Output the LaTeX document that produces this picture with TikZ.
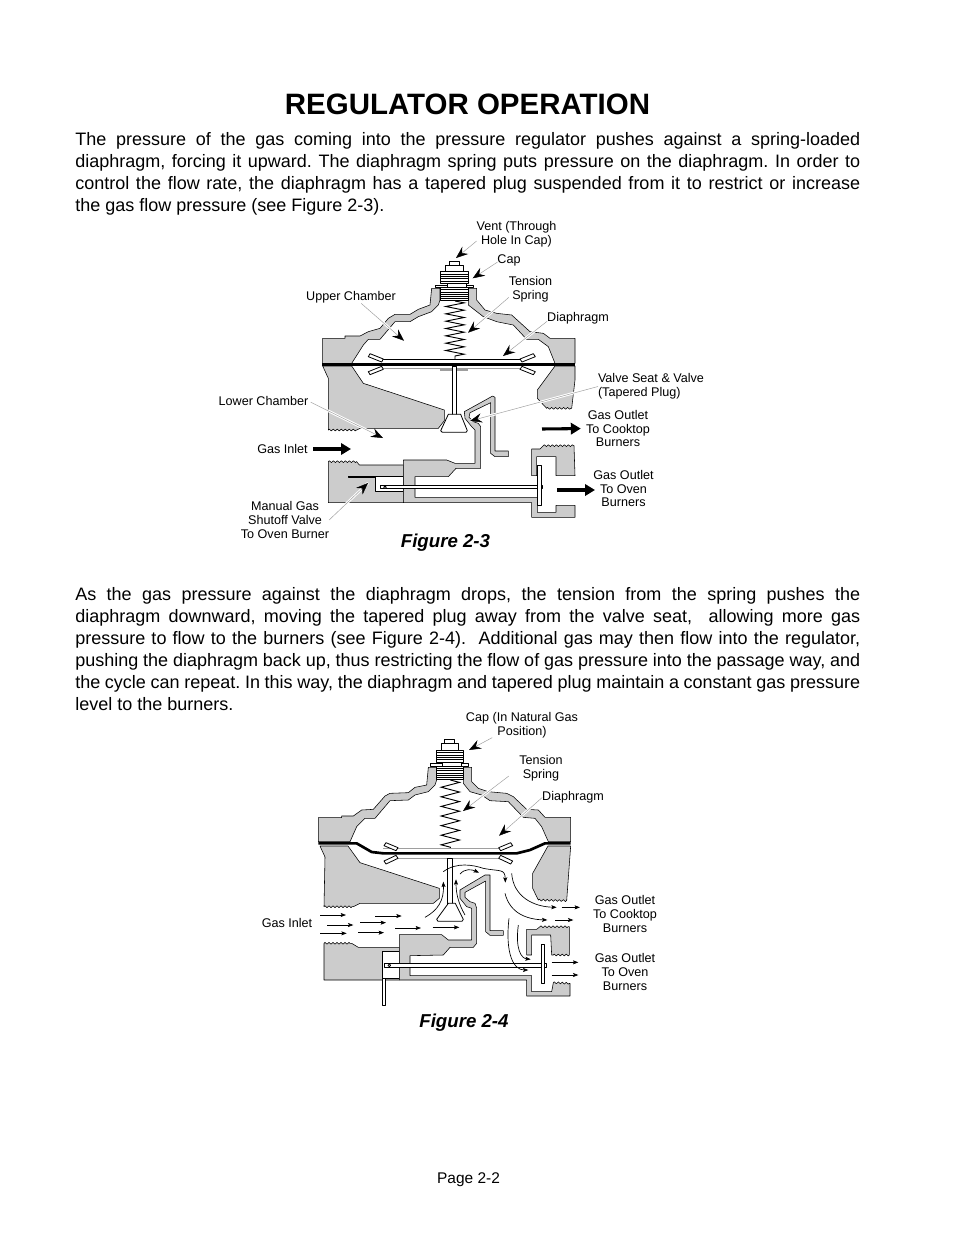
\documentclass[tikz,border=0pt]{standalone}
\usepackage{fontspec}
\setmainfont{Liberation Sans}
\usetikzlibrary{arrows.meta,decorations.pathmorphing}
\definecolor{bodygray}{gray}{0.80}
\definecolor{leadgray}{gray}{0.62}
\newcommand{\jline}[1]{\makebox[588.75pt][s]{\sfcode`\.=1000 \sfcode`\,=1000 \sfcode`\)=1000 #1}\\}
\tikzset{
  zA/.style={shift={(225pt,-187.5pt)},x=.25pt,y=-.25pt},
  zB/.style={shift={(225pt,-285pt)},x=.25pt,y=-.25pt},
  zC/.style={shift={(225pt,-547.5pt)},x=.25pt,y=-.25pt},
  zCap/.style={shift={(221.5pt,-546.5pt)},x=.25pt,y=-.25pt},
  zD/.style={shift={(232.5pt,-645pt)},x=.25pt,y=-.25pt},
  part/.style={fill=bodygray,draw=black,line width=.42pt,line join=round},
  whitepart/.style={fill=white,draw=black,line width=.6pt,line join=round},
  tooth/.style={decoration={zigzag,amplitude=.7pt,segment length=3pt}},
  coil/.style={draw=black,line width=.7pt,decorate,decoration={zigzag,amplitude=6.9pt,segment length=#1}},
  lab/.style={font=\fontsize{9.45pt}{10.2pt}\selectfont,align=center,inner sep=0pt,outer sep=0pt,text=black},
  leader/.style={draw=leadgray,line width=.35pt,
    preaction={draw=white,line width=1.9pt,-},
    -{Stealth[black,length=9pt,width=7pt,inset=3.2pt]}},
  thick arrow/.style={draw=black,line width=2.3pt,-{Triangle[black,length=7.5pt,width=8.5pt]}},
  flow/.style={draw=black,line width=.5pt,-{Stealth[black,length=4pt,width=3pt,inset=.8pt]}},
  para/.style={anchor=north west,inner sep=0pt,align=left,font=\fontsize{13.5pt}{16.5pt}\selectfont},
}
\newcommand{\regcap}{%
  \draw[whitepart] (448,33) rectangle (478,45);
  \draw[whitepart] (437,45) rectangle (490,65);
  \draw[whitepart] (422,65) rectangle (505,100);
  \foreach \yy in {72,79,86,93} \draw[line width=.5pt] (422,\yy) -- (505,\yy);
  \draw[whitepart] (405,105) rectangle (520,112);
  \draw[whitepart] (442,100) rectangle (498,112);
  \draw[whitepart] (422,112) rectangle (505,152);
  \foreach \yy in {119,126,133,140,146} \draw[line width=.5pt] (422,\yy) -- (505,\yy);
}
\begin{document}
\begin{tikzpicture}[x=.75pt,y=-.75pt]
\useasboundingbox (0,0) rectangle (954,1235);
\fill[white] (0,0) rectangle (954,1235);

% ---------- text ----------
\node[inner sep=0pt,font=\fontsize{22.1pt}{24pt}\selectfont\bfseries] (title) at (467.5,104.5) {REGULATOR OPERATION};
\node[para] (paraA) at (75,132) {\spaceskip=.278em plus .4em minus .2em
\jline{The pressure of the gas coming into the pressure regulator pushes against a spring-loaded}
\jline{diaphragm, forcing it upward. The diaphragm spring puts pressure on the diaphragm. In order to}
\jline{control the flow rate, the diaphragm has a tapered plug suspended from it to restrict or increase}
the gas flow pressure (see Figure 2-3).};
\node[para] (paraB) at (75,587) {\spaceskip=.278em plus .4em minus .2em
\jline{As the gas pressure against the diaphragm drops, the tension from the spring pushes the}
\jline{diaphragm downward, moving the tapered plug away from the valve seat, \ allowing more gas}
\jline{pressure to flow to the burners (see Figure 2-4). \ Additional gas may then flow into the regulator,}
\jline{pushing the diaphragm back up, thus restricting the flow of gas pressure into the passage way, and}
\jline{the cycle can repeat. In this way, the diaphragm and tapered plug maintain a constant gas pressure}
level to the burners.};
\node[inner sep=0pt,font=\fontsize{14pt}{16pt}\selectfont\bfseries\itshape] (figA) at (445.5,543) {Figure 2-3};
\node[inner sep=0pt,font=\fontsize{14pt}{16pt}\selectfont\bfseries\itshape] (figB) at (464,1023) {Figure 2-4};
\node[inner sep=0pt,font=\fontsize{11.6pt}{14pt}\selectfont] (page) at (468.5,1180) {Page 2-2};

% ---------- Figure 2-3 ----------
\begin{scope}[zA]
  \draw[part] (68,265) -- (135,265) -- (135,258) -- (180,258) -- (205,245) -- (240,235) -- (265,205) -- (285,193) -- (330,193) -- (355,178) -- (390,165) -- (395,115) -- (420,115) -- (420,150) -- (415,165) -- (395,185) -- (355,200) -- (330,215) -- (285,215) -- (240,268) -- (205,268) -- (190,285) -- (155,340) -- (68,340) -- cycle;
  \draw[part] (505,115) -- (530,115) -- (530,150) -- (555,180) -- (590,190) -- (635,195) -- (690,245) -- (730,250) -- (750,265) -- (825,265) -- (825,340) -- (765,340) -- (745,290) -- (715,268) -- (680,268) -- (640,225) -- (590,215) -- (550,200) -- (505,165) -- cycle;
  \path[coil=5.5pt] (465,153) -- (465,328);
  \regcap
  \draw[line width=.8pt] (245,328) -- (665,328);
  \draw[whitepart] (210,311) -- (205,320) -- (245,336) -- (250,327) -- cycle;
  \draw[whitepart] (700,311) -- (706,320) -- (666,336) -- (660,327) -- cycle;
  \draw[line width=.8pt,leadgray] (245,355) -- (665,355);
  \draw[whitepart] (245,349) -- (205,365) -- (210,374) -- (250,358) -- cycle;
  \draw[whitepart] (666,349) -- (706,365) -- (700,374) -- (660,358) -- cycle;
  \fill[leadgray] (420,357) rectangle (505,362);
  \draw[line width=2pt] (67,343) -- (825,343);
\end{scope}
\begin{scope}[zB]
  % left upper block
  \draw[part] (68,-42) -- (85,-5) -- (85,150) decorate[tooth]{-- (170,150)} -- (180,145) -- (415,145) -- (433,122) -- (433,90) -- (190,10) -- (155,-42) -- cycle;
  % right upper block
  \draw[part] (765,-42) -- (712,30) -- (712,55) -- (740,85) decorate[tooth]{-- (815,85)} -- (825,0) -- (825,-42) -- cycle;
  \draw[whitepart] (458,-40) rectangle (470,105);
  \draw[whitepart] (445,103) -- (482,103) -- (502,152) -- (498,157) -- (427,157) -- (422,152) -- cycle;
  % left lower block
  \draw[part] (85,245) decorate[tooth]{-- (170,245)} -- (178,255) -- (310,255) -- (310,368) -- (85,368) -- cycle;
  \draw[whitepart] (145,288) rectangle (227,293);
  \draw[whitepart] (227,288) rectangle (310,335);
  % passage piece
  \draw[part] (493,95) -- (578,48) -- (585,52) -- (585,213) -- (625,213) -- (625,230) -- (585,230) -- (572,220) -- (572,68) -- (510,98) -- (507,112) -- (520,125) -- (535,130) -- (542,140) -- (542,265) -- (468,265) -- (445,290) -- (345,290) -- (345,352) -- (712,352) -- (712,397) -- (768,397) -- (768,376) -- (825,376) -- (825,412) -- (695,412) -- (695,368) -- (310,368) -- (310,240) -- (440,240) -- (465,250) -- (525,250) -- (525,150) -- (515,140) -- (495,115) -- cycle;
  % right lower cap
  \draw[part] (695,207) -- (720,207) -- (730,197) decorate[tooth]{-- (822,197)} -- (825,287) -- (768,287) -- (768,230) -- (710,230) -- (710,287) -- (695,287) -- cycle;
  % rod, disc
  \draw[whitepart] (240,317) rectangle (728,326);
  \draw[whitepart] (712,257) rectangle (723,375);
  \draw[whitepart] (255,322) circle[radius=4];
\end{scope}

% labels 2-3
\node[lab] (lVent) at (516.5,234) {Vent (Through\\Hole In Cap)};
\node[lab] (lCap) at (509,260.5) {Cap};
\node[lab] (lTens) at (530.5,289.5) {Tension\\Spring};
\node[lab] (lUpper) at (351,297.5) {Upper Chamber};
\node[lab] (lDia) at (578,318.5) {Diaphragm};
\node[lab,align=left] (lValve) at (651,386.5) {Valve Seat \& Valve\\(Tapered Plug)};
\node[lab] (lLower) at (263.5,401) {Lower Chamber};
\node[lab] (lInlet) at (282.5,449) {Gas Inlet};
\node[lab] (lCook) at (618,428.5) {Gas Outlet\\To Cooktop\\Burners};
\node[lab] (lOven) at (623.5,488.5) {Gas Outlet\\To Oven\\Burners};
\node[lab] (lManual) at (285,520) {Manual Gas\\Shutoff Valve\\To Oven Burner};

\coordinate (tVent) at (456,258);
\coordinate (tCap) at (472.7,278.3);
\coordinate (tTens) at (468,332.7);
\coordinate (tDia) at (503,356);
\coordinate (tUpper) at (404,340.7);
\coordinate (tLower) at (383,438);
\coordinate (tManual) at (368,483);
\coordinate (tValve) at (470,421);
\coordinate (tInlet) at (351,449);
\coordinate (sCook) at (542,429);
\coordinate (sOven) at (557,490);
\coordinate (tOven) at (595,490);

\draw[leader] (lVent.190) -- (tVent);
\draw[leader] (lCap.188) -- (tCap);
\draw[leader] (lTens.200) -- (tTens);
\draw[leader] (lDia.185) -- (tDia);
\draw[leader] (lUpper.330) -- (tUpper);
\draw[leader,shorten <=2pt] (lLower.east) -- (tLower);
\draw[leader] (lManual.east) -- (tManual);
\draw[leader] (lValve.west) -- (tValve);
\draw[thick arrow,shorten <=4pt] (lInlet.east) -- (tInlet);
\draw[thick arrow,shorten >=4pt] (sCook) -- (lCook.west);
\draw[thick arrow] (sOven) -- (tOven);

% ---------- Figure 2-4 ----------
\begin{scope}[zC]
  \draw[part] (55,263) -- (125,263) -- (125,258) -- (160,258) -- (185,240) -- (220,238) -- (255,198) -- (270,190) -- (325,188) -- (345,172) -- (380,165) -- (385,112) -- (410,112) -- (410,150) -- (405,165) -- (385,185) -- (345,195) -- (325,210) -- (270,212) -- (225,265) -- (195,265) -- (170,290) -- (150,335) -- (55,335) -- cycle;
  \draw[part] (490,112) -- (515,112) -- (515,155) -- (535,175) -- (565,185) -- (620,190) -- (640,200) -- (680,238) -- (715,240) -- (735,262) -- (812,262) -- (812,335) -- (745,335) -- (725,290) -- (705,265) -- (670,262) -- (625,215) -- (570,212) -- (545,195) -- (510,185) -- (490,160) -- cycle;
  \path[coil=7.2pt] (451,150) -- (451,355);
\end{scope}
\begin{scope}[zCap]
  \regcap
\end{scope}
\begin{scope}[zC]
  \draw[line width=.8pt,leadgray] (250,355) -- (620,355);
  \draw[whitepart] (258,338) -- (252,347) -- (288,362) -- (294,353) -- cycle;
  \draw[whitepart] (632,338) -- (638,347) -- (602,362) -- (596,353) -- cycle;
  \draw[line width=.8pt,leadgray] (295,385) -- (600,385);
  \draw[whitepart] (288,376) -- (252,393) -- (258,402) -- (294,385) -- cycle;
  \draw[whitepart] (602,376) -- (638,393) -- (632,402) -- (596,385) -- cycle;
  \fill[leadgray] (410,384) rectangle (480,388);
  \draw[line width=2pt,line join=round] (55,340) -- (170,340) -- (215,366) -- (250,370) -- (650,370) -- (690,360) -- (735,340) -- (812,340);
\end{scope}
\begin{scope}[zD]
  \draw[part] (30,-42) -- (45,-9) -- (42,140) decorate[tooth]{-- (130,140)} -- (150,130) -- (370,130) -- (388,115) -- (388,85) -- (150,8) -- (114,-42) -- cycle;
  \draw[part] (714,-42) -- (668,40) -- (668,85) -- (685,120) decorate[tooth]{-- (770,122)} -- (782,-42) -- cycle;
  \draw[whitepart] (413,-6) rectangle (428,132);
  \draw[whitepart] (415,130) -- (436,130) -- (460,178) -- (456,184) -- (384,184) -- (380,178) -- cycle;
  % left lower block
  \draw[part] (42,250) decorate[tooth]{-- (125,250)} -- (145,262) -- (268,262) -- (268,360) -- (42,360) -- cycle;
  \draw[whitepart] (217,275) rectangle (268,355);
  \draw[whitepart] (217,355) rectangle (225,435);
  % passage piece
  \draw[part] (450,90) -- (458,85) -- (525,45) -- (540,45) -- (540,212) -- (580,212) -- (580,226) -- (540,226) -- (527,215) -- (527,63) -- (465,97) -- (465,112) -- (480,125) -- (495,130) -- (500,145) -- (500,250) -- (490,262) -- (420,262) -- (400,285) -- (300,287) -- (300,347) -- (665,347) -- (665,395) -- (725,395) -- (730,368) decorate[tooth]{-- (780,370)} -- (780,408) -- (650,408) -- (650,360) -- (268,360) -- (268,224) -- (395,224) -- (415,240) -- (485,240) -- (485,145) -- (470,140) -- (450,115) -- cycle;
  % right lower cap
  \draw[part] (650,208) -- (680,208) -- (690,200) decorate[tooth]{-- (778,200)} -- (778,285) decorate[tooth]{-- (725,285)} -- (722,225) -- (665,225) -- (665,285) -- (650,285) -- cycle;
  \draw[whitepart] (223,310) rectangle (710,321);
  \draw[whitepart] (694,253) rectangle (704,370);
  \draw[whitepart] (238,316) circle[radius=4];
  % flow arrows
  \foreach \xa/\ya/\xb in {30/165/108,52/195/130,30/220/110,150/188/228,145/218/222,195/168/275,255/204/333,368/202/448,755/142/810,735/180/790,725/307/805,725/345/805}
    \draw[flow] (\xa,\ya) -- (\xb,\ya);
  \draw[flow] (345,172) .. controls (385,150) and (402,120) .. (400,65);
  \draw[flow] (465,165) .. controls (445,130) and (438,100) .. (438,58);
  \draw[flow] (400,35) .. controls (440,5) and (490,15) .. (520,25) .. controls (570,35) and (585,25) .. (586,68);
  \draw[flow] (450,42) .. controls (465,25) and (485,28) .. (507,38);
  \draw[flow] (585,100) .. controls (600,160) and (650,178) .. (712,180);
  \draw[flow] (605,40) .. controls (610,110) and (670,140) .. (740,142);
  \draw[flow] (597,175) .. controls (585,280) and (610,330) .. (655,330);
  \draw[flow] (625,195) .. controls (615,270) and (635,295) .. (662,298);
\end{scope}

% labels 2-4
\node[lab] (mCap) at (522,725) {Cap (In Natural Gas\\Position)};
\node[lab] (mTens) at (541,768) {Tension\\Spring};
\node[lab] (mDia) at (573,797.5) {Diaphragm};
\node[lab] (mInlet) at (287,923) {Gas Inlet};
\node[lab] (mCook) at (625,914) {Gas Outlet\\To Cooktop\\Burners};
\node[lab] (mOven) at (625,972) {Gas Outlet\\To Oven\\Burners};
\coordinate (uCap) at (469,750);
\coordinate (uTens) at (463,811);
\coordinate (uDia) at (499,835.7);
\draw[leader] (mCap.203) -- (uCap);
\draw[leader,shorten <=10pt] (mTens.west) -- (uTens);
\draw[leader] (mDia.west) -- (uDia);
\end{tikzpicture}
\end{document}
